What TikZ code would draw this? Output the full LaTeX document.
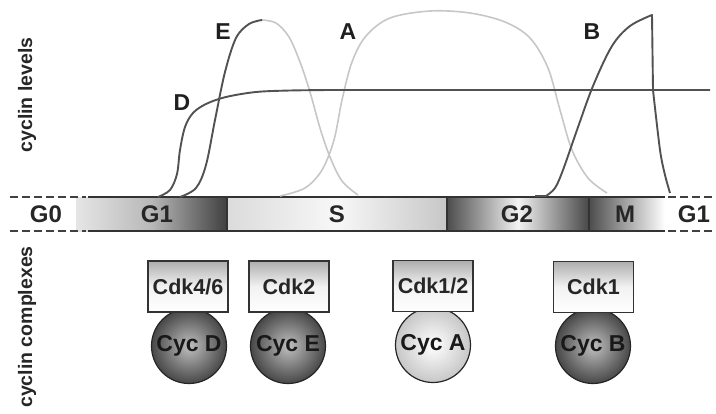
\documentclass[tikz,border=0pt]{standalone}
\usepackage{fontspec}
\setmainfont{Liberation Sans}
\begin{document}
\begin{tikzpicture}[x=1pt,y=-1pt,
  darkcurve/.style={draw=black!68,line width=1.9pt,line join=round},
  lightcurve/.style={draw=black!22,line width=1.6pt,line join=round},
  phase/.style={font=\bfseries\fontsize{24}{24}\selectfont,text=black!85},
  curvelabel/.style={font=\bfseries\fontsize{23}{23}\selectfont,text=black!88},
  sidelabel/.style={font=\bfseries\fontsize{19.5}{19.5}\selectfont,rotate=90,text=black!85},
  cdkbox/.style={draw=black!80,line width=1.2pt,minimum width=80pt,minimum height=51pt,
    top color=black!32,bottom color=white,middle color=black!5,
    font=\bfseries\fontsize{21.5}{21.5}\selectfont,text=black!85,inner sep=0pt},
  cycdark/.style={circle,draw=black!85,line width=1.2pt,minimum size=75pt,inner sep=0pt,
    inner color=black!25,outer color=black!72,font=\bfseries\fontsize{23}{23}\selectfont,text=black!90},
  cyclight/.style={circle,draw=black!85,line width=1.2pt,minimum size=75pt,inner sep=0pt,
    inner color=white,outer color=black!22,font=\bfseries\fontsize{23}{23}\selectfont,text=black!90},
  barline/.style={draw=black!80,line width=1.6pt},
  dashline/.style={draw=black!75,line width=1.6pt,dash pattern=on 8pt off 4pt}
]
\useasboundingbox (0,0) rectangle (716,413);

% bar shadings
\shade[left color=black!10,right color=black!75,middle color=black!28] (76,197) rectangle (227,231);
\shade[left color=black!14,right color=black!22,middle color=white!97!black] (227,197) rectangle (447,231);
\shade[left color=black!70,right color=black!72,middle color=white!95!black] (447,197) rectangle (589,231);
\shade[left color=black!70,right color=white] (589,197) rectangle (665,231);

\draw[barline] (88,197) -- (665,197);
\draw[barline] (88,231) -- (665,231);
\draw[barline] (227,197) -- (227,231);
\draw[barline] (447,197) -- (447,231);
\draw[barline] (589,197) -- (589,231);
\draw[dashline] (10,197) -- (86,197);
\draw[dashline] (10,231) -- (86,231);
\draw[dashline] (668,197) -- (714,197);
\draw[dashline] (668,231) -- (714,231);

\node[phase] (g0) at (46,214) {G0};
\node[phase] (g1) at (157,214) {G1};
\node[phase] (s) at (337,214) {S};
\node[phase] (g2) at (517,214) {G2};
\node[phase] (m) at (625,214) {M};
\node[phase] (g1b) at (694,214) {G1};

% curves
\draw[lightcurve] plot[smooth,tension=0.55] coordinates {(280,196) (305,188) (322,170) (334,140) (342,100) (352,62) (366,36) (390,18) (430,11) (470,13) (505,22) (530,38) (548,68) (560,110) (572,150) (588,178) (607,193)};
\draw[lightcurve] plot[smooth,tension=0.55] coordinates {(262,20) (276,23) (289,37) (300,62) (310,92) (320,128) (330,157) (342,181) (358,195)};
\draw[darkcurve] plot[smooth,tension=0.55] coordinates {(180,197) (196,188) (206,165) (215,120) (225,72) (236,38) (249,24) (262,20)};
\draw[darkcurve] plot[smooth,tension=0.55] coordinates {(158,197) (170,190) (177,174) (180,150) (185,127) (193,113) (206,104) (226,97) (256,92) (290,90.5) (330,90)} -- (710,90);
\draw[darkcurve] (535,196) -- (546,196) plot[smooth,tension=0.55] coordinates {(546,196) (555,188) (563,170) (577,130) (593,86) (612,46) (630,26) (652,15)} -- (653,90) plot[smooth,tension=0.5] coordinates {(653,90) (660,150) (665,175) (670,193)};

\node[curvelabel] (le) at (223,32) {E};
\node[curvelabel] (ld) at (182,103) {D};
\node[curvelabel] (la) at (348,32) {A};
\node[curvelabel] (lb) at (592,32) {B};

\node[sidelabel] (sl1) at (27,95) {cyclin levels};
\node[sidelabel] (sl2) at (27,327) {cyclin complexes};

% complexes
\node[cycdark] (cycd) at (189,346) {Cyc D};
\node[cycdark] (cyce) at (288,346) {Cyc E};
\node[cyclight] (cyca) at (433,345) {Cyc A};
\node[cycdark] (cycb) at (593,346) {Cyc B};
\node[cdkbox] (cdk46) at (188,286.5) {Cdk4/6};
\node[cdkbox] (cdk2) at (289,286.5) {Cdk2};
\node[cdkbox] (cdk12) at (433,286) {Cdk1/2};
\node[cdkbox] (cdk1) at (593.5,287) {Cdk1};
\end{tikzpicture}
\end{document}
